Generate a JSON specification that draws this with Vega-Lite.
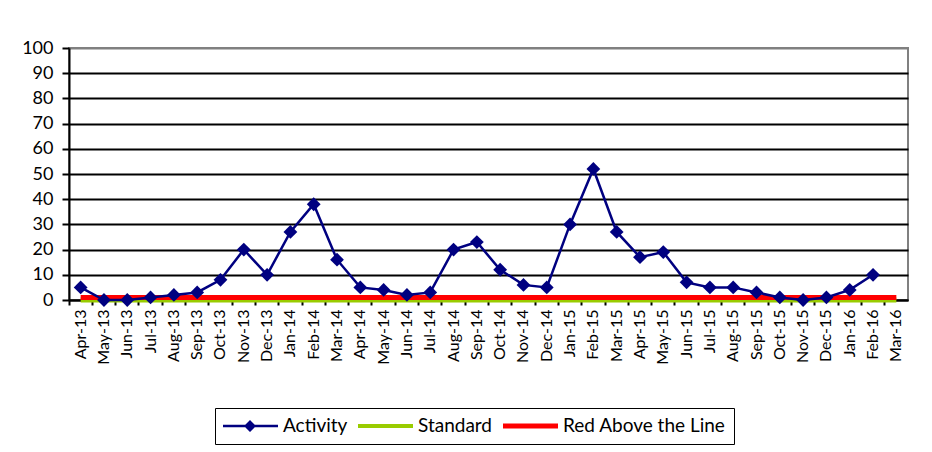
{
  "$schema": "https://vega.github.io/schema/vega-lite/v6.json",
  "width": 839,
  "height": 252,
  "autosize": {"type": "none"},
  "padding": {"left": 69, "top": 48, "right": 24, "bottom": 152},
  "background": "white",
  "config": {
    "font": "Lato",
    "view": {"stroke": "#808080", "strokeWidth": 2}
  },
  "data": {
    "values": [
      {"month": "Apr-13", "Activity": 5, "Standard": 0, "Red Above the Line": 1},
      {"month": "May-13", "Activity": 0, "Standard": 0, "Red Above the Line": 1},
      {"month": "Jun-13", "Activity": 0, "Standard": 0, "Red Above the Line": 1},
      {"month": "Jul-13", "Activity": 1, "Standard": 0, "Red Above the Line": 1},
      {"month": "Aug-13", "Activity": 2, "Standard": 0, "Red Above the Line": 1},
      {"month": "Sep-13", "Activity": 3, "Standard": 0, "Red Above the Line": 1},
      {"month": "Oct-13", "Activity": 8, "Standard": 0, "Red Above the Line": 1},
      {"month": "Nov-13", "Activity": 20, "Standard": 0, "Red Above the Line": 1},
      {"month": "Dec-13", "Activity": 10, "Standard": 0, "Red Above the Line": 1},
      {"month": "Jan-14", "Activity": 27, "Standard": 0, "Red Above the Line": 1},
      {"month": "Feb-14", "Activity": 38, "Standard": 0, "Red Above the Line": 1},
      {"month": "Mar-14", "Activity": 16, "Standard": 0, "Red Above the Line": 1},
      {"month": "Apr-14", "Activity": 5, "Standard": 0, "Red Above the Line": 1},
      {"month": "May-14", "Activity": 4, "Standard": 0, "Red Above the Line": 1},
      {"month": "Jun-14", "Activity": 2, "Standard": 0, "Red Above the Line": 1},
      {"month": "Jul-14", "Activity": 3, "Standard": 0, "Red Above the Line": 1},
      {"month": "Aug-14", "Activity": 20, "Standard": 0, "Red Above the Line": 1},
      {"month": "Sep-14", "Activity": 23, "Standard": 0, "Red Above the Line": 1},
      {"month": "Oct-14", "Activity": 12, "Standard": 0, "Red Above the Line": 1},
      {"month": "Nov-14", "Activity": 6, "Standard": 0, "Red Above the Line": 1},
      {"month": "Dec-14", "Activity": 5, "Standard": 0, "Red Above the Line": 1},
      {"month": "Jan-15", "Activity": 30, "Standard": 0, "Red Above the Line": 1},
      {"month": "Feb-15", "Activity": 52, "Standard": 0, "Red Above the Line": 1},
      {"month": "Mar-15", "Activity": 27, "Standard": 0, "Red Above the Line": 1},
      {"month": "Apr-15", "Activity": 17, "Standard": 0, "Red Above the Line": 1},
      {"month": "May-15", "Activity": 19, "Standard": 0, "Red Above the Line": 1},
      {"month": "Jun-15", "Activity": 7, "Standard": 0, "Red Above the Line": 1},
      {"month": "Jul-15", "Activity": 5, "Standard": 0, "Red Above the Line": 1},
      {"month": "Aug-15", "Activity": 5, "Standard": 0, "Red Above the Line": 1},
      {"month": "Sep-15", "Activity": 3, "Standard": 0, "Red Above the Line": 1},
      {"month": "Oct-15", "Activity": 1, "Standard": 0, "Red Above the Line": 1},
      {"month": "Nov-15", "Activity": 0, "Standard": 0, "Red Above the Line": 1},
      {"month": "Dec-15", "Activity": 1, "Standard": 0, "Red Above the Line": 1},
      {"month": "Jan-16", "Activity": 4, "Standard": 0, "Red Above the Line": 1},
      {"month": "Feb-16", "Activity": 10, "Standard": 0, "Red Above the Line": 1},
      {"month": "Mar-16", "Activity": null, "Standard": 0, "Red Above the Line": 1}
    ]
  },
  "transform": [
    {"fold": ["Activity", "Standard", "Red Above the Line"], "as": ["series", "value"]},
    {"filter": "datum.value != null"}
  ],
  "encoding": {
    "x": {
      "field": "month",
      "type": "nominal",
      "sort": null,
      "scale": {"type": "band", "paddingInner": 0, "paddingOuter": 0},
      "axis": {
        "title": null,
        "bandPosition": 0,
        "labelAngle": -90,
        "labelAlign": "right",
        "labelBaseline": "middle",
        "labelOffset": 0,
        "labelFontSize": 16,
        "labelColor": "black",
        "labelPadding": 4,
        "tickSize": 5,
        "tickWidth": 2,
        "tickColor": "black",
        "domainColor": "black",
        "domainWidth": 2,
        "grid": false
      }
    },
    "y": {
      "field": "value",
      "type": "quantitative",
      "scale": {"domain": [0, 100], "nice": false},
      "axis": {
        "title": null,
        "values": [0, 10, 20, 30, 40, 50, 60, 70, 80, 90, 100],
        "labelFontSize": 18,
        "labelColor": "black",
        "labelPadding": 9,
        "tickSize": 7,
        "tickWidth": 2,
        "tickColor": "black",
        "domainColor": "black",
        "domainWidth": 2,
        "grid": true,
        "gridWidth": 2,
        "gridColor": {"condition": {"test": "datum.value == 100", "value": "#808080"}, "value": "black"},
        "gridOpacity": 1
      }
    },
    "color": {
      "field": "series",
      "type": "nominal",
      "scale": {
        "domain": ["Activity", "Standard", "Red Above the Line"],
        "range": ["#000080", "#99CC00", "#FF0000"]
      },
      "legend": {
        "title": null,
        "orient": "none",
        "direction": "horizontal",
        "legendX": 146,
        "legendY": 360,
        "padding": 8,
        "strokeColor": "black",
        "fillColor": "white",
        "labelFontSize": 19,
        "labelColor": "black",
        "labelLimit": 400,
        "labelOffset": 40,
        "columnPadding": 10,
        "symbolSize": 400,
        "symbolStrokeWidth": 0,
        "symbolOpacity": 1
      }
    }
  },
  "layer": [
    {
      "transform": [{"filter": "datum.series == 'Standard'"}],
      "mark": {"type": "line", "strokeWidth": 5}
    },
    {
      "transform": [{"filter": "datum.series == 'Red Above the Line'"}],
      "mark": {"type": "line", "strokeWidth": 5}
    },
    {
      "transform": [{"filter": "datum.series == 'Activity'"}],
      "mark": {"type": "line", "strokeWidth": 2.5}
    },
    {
      "transform": [{"filter": "datum.series == 'Activity'"}],
      "mark": {"type": "point", "shape": "diamond", "filled": true, "size": 190, "opacity": 1}
    },
    {
      "mark": {"type": "point", "filled": true, "opacity": 0},
      "encoding": {
        "shape": {
          "field": "series",
          "type": "nominal",
          "scale": {
            "domain": ["Activity", "Standard", "Red Above the Line"],
            "range": [
              "M-1,-0.12H4.5V0.12H-1Z M1.7,-0.6L2.3,0L1.7,0.6L1.1,0Z",
              "M-1,-0.2H4.5V0.2H-1Z",
              "M-1,-0.25H4.5V0.25H-1Z"
            ]
          },
          "legend": {
            "title": null,
            "orient": "none",
            "direction": "horizontal",
            "legendX": 146,
            "legendY": 360,
            "padding": 8,
            "strokeColor": "black",
            "fillColor": "white",
            "labelFontSize": 19,
            "labelColor": "black",
            "labelLimit": 400,
            "labelOffset": 40,
            "columnPadding": 10,
            "symbolSize": 400,
            "symbolStrokeWidth": 0,
            "symbolOpacity": 1
          }
        }
      }
    }
  ]
}
